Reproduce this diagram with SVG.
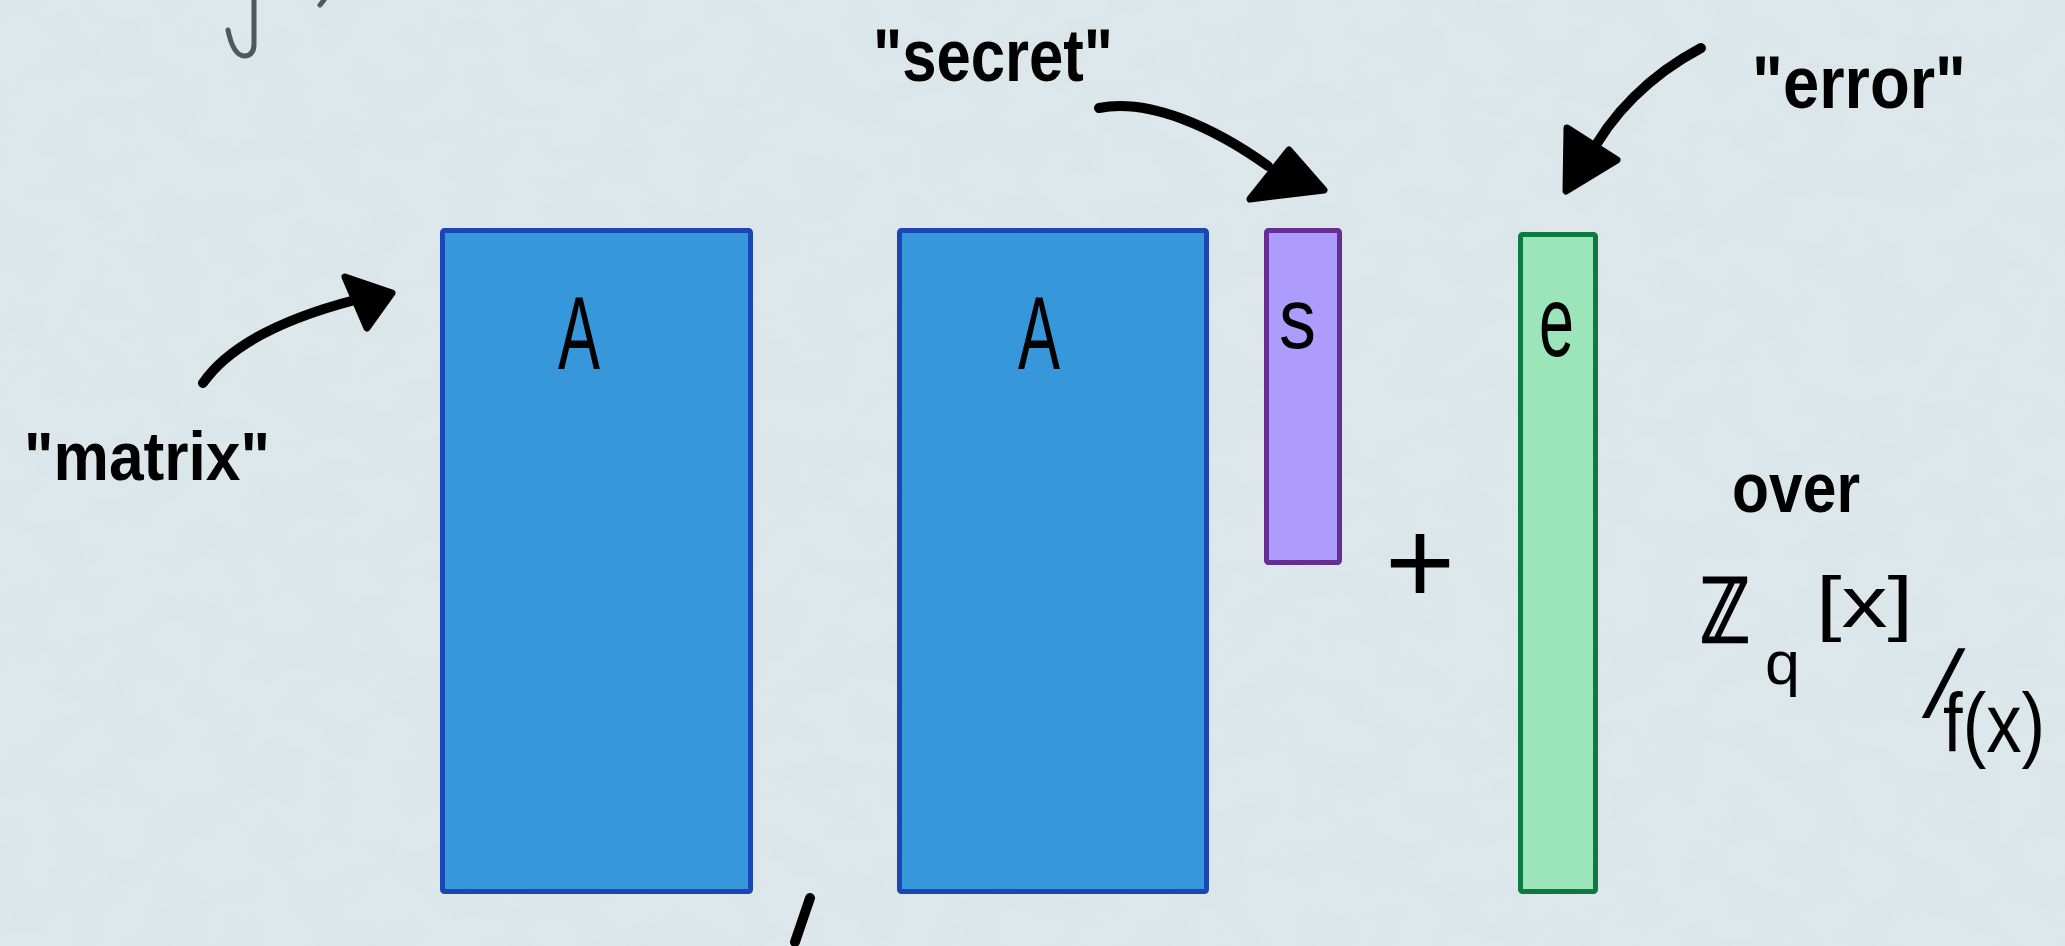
<svg xmlns="http://www.w3.org/2000/svg" width="2065" height="946" viewBox="0 0 2065 946">
<defs>
<filter id="paper" x="0" y="0" width="100%" height="100%">
<feTurbulence type="fractalNoise" baseFrequency="0.02 0.025" numOctaves="4" seed="3" result="n"/>
<feColorMatrix in="n" type="matrix" values="0 0 0 0 0.78  0 0 0 0 0.84  0 0 0 0 0.9  0 0 0 0.9 -0.25"/>
</filter>
<style>
.hand{font-family:"Liberation Sans","DejaVu Sans",sans-serif;fill:#000;font-weight:bold}
.lbl{font-family:"Liberation Sans","DejaVu Sans",sans-serif;fill:#000}
.math{font-family:"DejaVu Sans","Liberation Sans",sans-serif;fill:#000;stroke:#000;stroke-width:2.5}
.mat{fill:#3797db;stroke:#1a47b3;stroke-width:5}
.sec{fill:#ae9cfc;stroke:#642f90;stroke-width:5}
.err{fill:#9ce5bb;stroke:#0d7a3e;stroke-width:5}
.ln{fill:none;stroke:#000;stroke-width:10;stroke-linecap:round;stroke-linejoin:round}
.hd{fill:#000;stroke:#000;stroke-width:7;stroke-linejoin:round}
.gray{fill:none;stroke:#4f5959;stroke-width:5;stroke-linecap:round;stroke-linejoin:round}
</style>
</defs>
<rect width="2065" height="946" fill="#dbe6ea"/>
<rect width="2065" height="946" filter="url(#paper)" opacity="0.5"/>

<g id="top-fragment">
<path class="gray" d="M254,0 L254,44 Q254,56 244,56 Q233,55 228,30"/>
<path class="gray" d="M324,0 L320,5"/>
</g>

<g id="matrix-A1">
<rect class="mat" x="442.5" y="230.5" width="308" height="661" rx="2"/>
<text class="lbl" x="558" y="369" font-size="103" textLength="42" lengthAdjust="spacingAndGlyphs">A</text>
</g>
<g id="matrix-A2">
<rect class="mat" x="899.5" y="230.5" width="307" height="661" rx="2"/>
<text class="lbl" x="1018" y="369" font-size="103" textLength="42" lengthAdjust="spacingAndGlyphs">A</text>
</g>
<g id="secret-s">
<rect class="sec" x="1266.5" y="230.5" width="73" height="332" rx="2"/>
<text class="lbl" x="1279" y="348" font-size="86" textLength="37" lengthAdjust="spacingAndGlyphs">s</text>
</g>
<g id="plus">
<text class="lbl" x="1420" y="604" font-size="120" text-anchor="middle">+</text>
</g>
<g id="error-e">
<rect class="err" x="1520.5" y="234.5" width="75" height="657" rx="2"/>
<text class="lbl" x="1539" y="356" font-size="100" textLength="35" lengthAdjust="spacingAndGlyphs">e</text>
</g>

<g id="label-matrix">
<text class="hand" x="24" y="480" font-size="68" textLength="246" lengthAdjust="spacingAndGlyphs">"matrix"</text>
</g>
<g id="label-secret">
<text class="hand" x="873" y="81" font-size="74" textLength="240" lengthAdjust="spacingAndGlyphs">"secret"</text>
</g>
<g id="label-error">
<text class="hand" x="1752" y="108" font-size="74" textLength="214" lengthAdjust="spacingAndGlyphs">"error"</text>
</g>
<g id="label-over">
<text class="hand" x="1732" y="512" font-size="70" textLength="128" lengthAdjust="spacingAndGlyphs">over</text>
</g>
<g id="label-ring">
<text class="math" x="1700" y="642" font-size="88" textLength="50" lengthAdjust="spacingAndGlyphs">ℤ</text>
<text class="lbl" x="1765" y="684" font-size="62" textLength="35" lengthAdjust="spacingAndGlyphs">q</text>
<text class="lbl" x="1816" y="627" font-size="72" textLength="97" lengthAdjust="spacingAndGlyphs">[x]</text>
<text class="lbl" transform="translate(1922,717) skewX(-14)" x="0" y="0" font-size="95">/</text>
<text class="lbl" x="1943" y="752" font-size="84" textLength="102" lengthAdjust="spacingAndGlyphs">f(x)</text>
</g>

<g id="connectors">
<path class="ln" d="M203,383 Q240,330 355,300"/>
<polygon class="hd" points="345,277 392,293 367,328"/>
<path class="ln" d="M1099,108 C1150,98 1215,128 1268,166"/>
<polygon class="hd" points="1289,150 1324,190 1250,199"/>
<path class="ln" d="M1701,48 C1650,75 1610,115 1588,160"/>
<polygon class="hd" points="1567,128 1617,160 1566,191"/>
<path class="ln" d="M810,898 L795,942"/>
</g>
</svg>
